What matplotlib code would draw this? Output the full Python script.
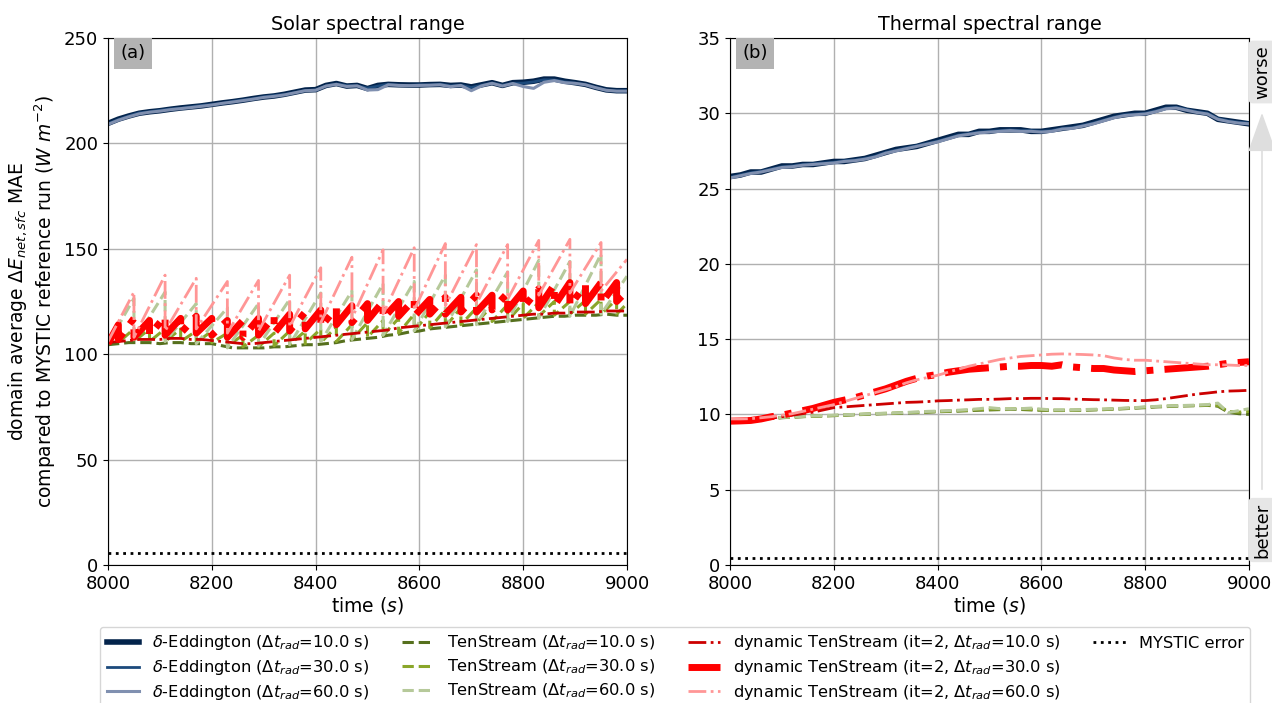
import matplotlib
matplotlib.use("Agg")
import matplotlib.pyplot as plt
import numpy as np

# ---------------- data ----------------
t_grid = np.arange(8000, 9001, 20)

# solar: delta-Eddington
sol_edd10 = [209.5, 211.5, 213, 214.3, 215, 215.5, 216.2, 216.8, 217.3, 217.8,
             218.5, 219.2, 219.8, 220.5, 221.3, 222, 222.5, 223.3, 224.3, 225.3,
             225.5, 227.5, 228.4, 227.2, 227.5, 226, 227.5, 228, 227.8, 227.7,
             227.7, 227.9, 228, 227.5, 227.7, 226.8, 227.8, 228.8, 227.5, 228.8,
             229, 229.5, 230.5, 230.5, 229.5, 228.8, 228, 226.6, 225.4, 225, 225]
sol_edd30 = [209.3, 211.3, 213, 214.5, 215, 215.7, 216.3, 216.6, 217.3, 218,
             218.4, 219, 219.9, 220.6, 221.2, 222.1, 222.7, 223.2, 224.1, 225.1,
             225.3, 227.3, 228.2, 227.4, 227.3, 226.2, 227.2, 228.1, 227.6, 227.5,
             227.8, 227.7, 228.1, 227.3, 227.6, 226.5, 227.6, 228.6, 227.6, 228.5,
             228.6, 229.2, 230.2, 230.1, 229.2, 228.6, 227.9, 226.5, 225.3, 224.8, 224.9]
sol_edd60 = [209, 211, 212.6, 214, 214.8, 215.3, 216, 216.5, 217, 217.6,
             218.2, 219, 219.6, 220.3, 221, 221.8, 222.3, 223, 224, 225,
             225.2, 227.2, 228, 227, 227.3, 225.3, 225.5, 227.8, 227.5, 227.4,
             227.5, 227.6, 227.8, 226.9, 227.5, 225, 227.3, 228.5, 227.2, 228.4,
             227, 226.1, 229, 229.8, 228.8, 228.5, 227.8, 226.4, 225.2, 224.8, 224.8]

# solar: TenStream 10 s and dynamic TenStream 10 s (smooth)
sol_ts10 = [104.5, 105, 105.5, 105.5, 105.5, 105, 105.5, 105.5, 105, 105,
            105, 104, 103, 103, 103, 103, 103.5, 103.5, 104, 104.5,
            104.5, 105, 105.5, 106.5, 107, 107.5, 108, 109, 109.5, 110.5,
            111, 112, 112.5, 113, 113.5, 114, 114.5, 115, 115.5, 116,
            116.5, 117, 117.5, 118, 118, 118.5, 118.5, 118.5, 119, 118.5, 118.5]
sol_dyn10 = [105.5, 106, 106.5, 107, 107, 107, 107.5, 107.5, 107, 107,
             106.5, 106, 105.5, 105, 105, 105.5, 106, 106.5, 107, 107.5,
             108, 108.5, 109, 109.5, 110, 110.5, 111, 111.5, 112.5, 113,
             113.5, 114, 114.5, 115, 115.5, 116, 116.5, 117, 117.5, 118,
             118.5, 119, 119, 119.5, 119.5, 120, 120, 120, 120.5, 120.5, 120.5]

# solar: sawtooth series, values just before (peak) and just after (trough) each update
upd30 = np.arange(8020, 8981, 30)
upd60 = np.arange(8050, 8951, 60)

ts30_start, ts30_end = 105, 124
ts30_peaks = [111, 112, 112, 112, 112, 111, 111, 110, 109, 109, 110, 111, 111,
              112, 113, 114, 115, 116, 117, 119, 120, 121, 122, 122, 123, 123.5,
              124, 124.5, 125, 125, 125.5, 126, 126]
ts30_troughs = [105.5, 106, 106, 106, 106, 105.5, 105.5, 104, 103.5, 103.5, 104,
                104.5, 105, 105.5, 106, 107, 108, 109, 110, 111, 112.5, 113, 114,
                115, 115.5, 116, 117, 118, 118.5, 119, 119, 119, 119]

ts60_start, ts60_end = 105, 137
ts60_peaks = [126.5, 129.5, 124, 122, 124, 126, 129, 130, 133.5, 134.5, 137.5,
              140, 139, 144.5, 144, 147.5]
ts60_troughs = [106, 106, 105, 103, 104, 104.5, 106, 107, 109, 111, 113, 114,
                115.5, 117, 118, 119]

dyn30_start, dyn30_end = 105, 130
dyn30_peaks = [114, 117, 116, 118, 117, 118, 117, 116, 116, 117, 118, 119, 120,
               121, 122, 123, 124, 125, 125, 126, 126, 127, 127, 128, 128, 129,
               130, 131, 133, 134, 133, 134, 134]
dyn30_troughs = [107, 108, 109, 109, 110, 110, 109, 108, 108, 109, 110, 111, 112,
                 113, 114, 115, 116, 117, 118, 118, 119, 119, 120, 120, 121, 121,
                 122, 122, 123, 123, 124, 124, 125]

dyn60_start, dyn60_end = 106, 145
dyn60_peaks = [129.5, 137.5, 136, 134.5, 135, 137.5, 141, 146, 149.5, 150.5,
               152.5, 152, 152, 154, 154.5, 153]
dyn60_troughs = [108, 111, 112, 110, 111, 113, 115, 117, 119, 121, 123, 124,
                 126, 128, 129, 130]

mystic_solar = 5.5

# thermal
th_edd10 = [25.8, 25.9, 26.1, 26.1, 26.3, 26.5, 26.5, 26.6, 26.6, 26.7,
            26.8, 26.8, 26.9, 27.0, 27.2, 27.4, 27.6, 27.7, 27.8, 28.0,
            28.2, 28.4, 28.6, 28.6, 28.8, 28.8, 28.9, 28.9, 28.9, 28.8,
            28.8, 28.9, 29.0, 29.1, 29.2, 29.4, 29.6, 29.8, 29.9, 30.0,
            30.0, 30.2, 30.4, 30.4, 30.2, 30.1, 30.0, 29.6, 29.5, 29.4, 29.3]
th_edd30 = [25.75, 25.9, 26.05, 26.15, 26.3, 26.45, 26.5, 26.6, 26.65, 26.7,
            26.75, 26.85, 26.9, 27.0, 27.15, 27.4, 27.55, 27.7, 27.85, 28.0,
            28.15, 28.35, 28.55, 28.65, 28.75, 28.8, 28.85, 28.9, 28.85, 28.85,
            28.8, 28.85, 29.0, 29.05, 29.2, 29.35, 29.55, 29.75, 29.9, 29.95,
            30.0, 30.15, 30.35, 30.4, 30.25, 30.1, 30.0, 29.65, 29.5, 29.4, 29.35]
th_edd60 = [25.7, 25.85, 26.0, 26.1, 26.25, 26.4, 26.45, 26.55, 26.6, 26.65,
            26.7, 26.8, 26.85, 26.95, 27.1, 27.35, 27.5, 27.65, 27.8, 27.95,
            28.1, 28.3, 28.5, 28.6, 28.7, 28.75, 28.8, 28.85, 28.8, 28.8,
            28.75, 28.8, 28.95, 29.0, 29.15, 29.3, 29.5, 29.7, 29.85, 29.9,
            29.95, 30.1, 30.3, 30.35, 30.2, 30.05, 29.95, 29.6, 29.45, 29.35, 29.3]

th_ts10 = [9.6, 9.62, 9.65, 9.7, 9.73, 9.78, 9.82, 9.85, 9.88, 9.9,
           9.92, 9.95, 9.98, 10.0, 10.03, 10.05, 10.07, 10.1, 10.12, 10.15,
           10.18, 10.2, 10.22, 10.25, 10.28, 10.3, 10.32, 10.33, 10.33, 10.3,
           10.28, 10.26, 10.26, 10.27, 10.28, 10.3, 10.32, 10.35, 10.38, 10.42,
           10.45, 10.5, 10.52, 10.55, 10.57, 10.58, 10.6, 10.55, 10.15, 10.05, 10.0]
th_ts30 = [9.6, 9.63, 9.66, 9.7, 9.74, 9.8, 9.83, 9.86, 9.89, 9.91,
           9.93, 9.96, 9.99, 10.02, 10.05, 10.07, 10.09, 10.12, 10.14, 10.17,
           10.2, 10.22, 10.25, 10.28, 10.32, 10.35, 10.36, 10.36, 10.38, 10.33,
           10.3, 10.28, 10.28, 10.28, 10.3, 10.32, 10.34, 10.37, 10.4, 10.44,
           10.48, 10.52, 10.55, 10.57, 10.58, 10.6, 10.62, 10.6, 10.2, 10.15, 10.2]
th_ts60 = [9.62, 9.65, 9.68, 9.72, 9.76, 9.8, 9.84, 9.87, 9.9, 9.93,
           9.95, 9.98, 10.0, 10.03, 10.06, 10.08, 10.1, 10.13, 10.16, 10.2,
           10.22, 10.25, 10.28, 10.32, 10.38, 10.45, 10.38, 10.36, 10.38, 10.42,
           10.35, 10.3, 10.3, 10.3, 10.32, 10.34, 10.36, 10.38, 10.42, 10.45,
           10.5, 10.53, 10.56, 10.58, 10.6, 10.62, 10.65, 10.75, 10.12, 10.25, 10.38]

th_dyn10 = [9.55, 9.57, 9.6, 9.65, 9.75, 9.85, 9.95, 10.05, 10.15, 10.3,
            10.45, 10.5, 10.55, 10.6, 10.65, 10.7, 10.75, 10.8, 10.82, 10.85,
            10.9, 10.92, 10.95, 10.97, 11.0, 11.0, 11.02, 11.05, 11.05, 11.07,
            11.07, 11.05, 11.05, 11.02, 11.0, 10.98, 10.97, 10.95, 10.93, 10.92,
            10.92, 10.97, 11.05, 11.15, 11.25, 11.35, 11.42, 11.5, 11.55, 11.57, 11.6]
th_dyn30 = [9.55, 9.57, 9.6, 9.7, 9.85, 9.95, 10.1, 10.25, 10.4, 10.6,
            10.8, 10.95, 11.1, 11.3, 11.5, 11.7, 11.95, 12.2, 12.4, 12.55,
            12.65, 12.8, 12.9, 13.0, 13.05, 13.1, 13.15, 13.2, 13.2, 13.25,
            13.25, 13.2, 13.3, 13.15, 13.1, 13.05, 13.05, 12.95, 12.9, 12.85,
            12.9, 12.95, 13.0, 13.05, 13.1, 13.15, 13.2, 13.3, 13.4, 13.45, 13.5]
th_dyn60 = [9.7, 9.7, 9.72, 9.78, 9.85, 9.95, 10.05, 10.2, 10.35, 10.5,
            10.65, 10.85, 11.05, 11.25, 11.45, 11.65, 11.85, 12.1, 12.3, 12.45,
            12.6, 12.8, 13.0, 13.2, 13.35, 13.5, 13.65, 13.75, 13.85, 13.9,
            13.95, 14.0, 14.02, 14.0, 13.98, 13.95, 13.9, 13.75, 13.65, 13.6,
            13.6, 13.55, 13.5, 13.45, 13.4, 13.35, 13.3, 13.3, 13.28, 13.25, 13.25]

mystic_thermal = 0.45

labels = [
    r"$\delta$-Eddington ($\Delta t_{rad}$=10.0 s)",
    r"$\delta$-Eddington ($\Delta t_{rad}$=30.0 s)",
    r"$\delta$-Eddington ($\Delta t_{rad}$=60.0 s)",
    r"TenStream ($\Delta t_{rad}$=10.0 s)",
    r"TenStream ($\Delta t_{rad}$=30.0 s)",
    r"TenStream ($\Delta t_{rad}$=60.0 s)",
    r"dynamic TenStream (it=2, $\Delta t_{rad}$=10.0 s)",
    r"dynamic TenStream (it=2, $\Delta t_{rad}$=30.0 s)",
    r"dynamic TenStream (it=2, $\Delta t_{rad}$=60.0 s)",
    "MYSTIC error",
]

# ---------------- styles ----------------
styles = [
    dict(color="#03234b", lw=4.0, ls="-"),
    dict(color="#1c4a7c", lw=2.0, ls="-"),
    dict(color="#8090b0", lw=2.2, ls="-"),
    dict(color="#56701e", lw=2.2, ls="--"),
    dict(color="#8aa62a", lw=2.2, ls="--"),
    dict(color="#b6c99a", lw=2.2, ls="--"),
    dict(color="#cc0000", lw=2.0, ls="-."),
    dict(color="#ff0000", lw=5.0, ls="-."),
    dict(color="#ff9696", lw=2.0, ls="-."),
]


def sawtooth(start, end, upd, peaks, troughs):
    """Build x/y arrays: linear growth between updates, sharp drop at each update."""
    t = [8000]
    v = [start]
    for tu, p, tr in zip(upd, peaks, troughs):
        t += [tu, tu]
        v += [p, tr]
    t.append(9000)
    v.append(end)
    return t, v


solar = [
    (t_grid, sol_edd10), (t_grid, sol_edd30), (t_grid, sol_edd60),
    (t_grid, sol_ts10),
    sawtooth(ts30_start, ts30_end, upd30, ts30_peaks, ts30_troughs),
    sawtooth(ts60_start, ts60_end, upd60, ts60_peaks, ts60_troughs),
    (t_grid, sol_dyn10),
    sawtooth(dyn30_start, dyn30_end, upd30, dyn30_peaks, dyn30_troughs),
    sawtooth(dyn60_start, dyn60_end, upd60, dyn60_peaks, dyn60_troughs),
]
thermal = [
    (t_grid, th_edd10), (t_grid, th_edd30), (t_grid, th_edd60),
    (t_grid, th_ts10), (t_grid, th_ts30), (t_grid, th_ts60),
    (t_grid, th_dyn10), (t_grid, th_dyn30), (t_grid, th_dyn60),
]

# ---------------- figure ----------------
W, H = 1272, 703
fig = plt.figure(figsize=(W / 100, H / 100), dpi=100)
ax1 = fig.add_axes([108 / W, 1 - 565 / H, 519 / W, 527 / H])
ax2 = fig.add_axes([730 / W, 1 - 565 / H, 519 / W, 527 / H])

handles = []
for (t, v), st in zip(solar, styles):
    (h,) = ax1.plot(t, v, **st)
    handles.append(h)
for (t, v), st in zip(thermal, styles):
    ax2.plot(t, v, **st)

hm = ax1.axhline(mystic_solar, color="black", lw=2, ls=":")
ax2.axhline(mystic_thermal, color="black", lw=2, ls=":")
handles.append(hm)

fs = 13
for ax, ylim, step, title, tag in [
    (ax1, 250, 50, "Solar spectral range", "(a)"),
    (ax2, 35, 5, "Thermal spectral range", "(b)"),
]:
    ax.set_xlim(8000, 9000)
    ax.set_ylim(0, ylim)
    ax.set_xticks(np.arange(8000, 9001, 200))
    ax.set_yticks(np.arange(0, ylim + 1, step))
    ax.grid(True, color="#b0b0b0", lw=1)
    ax.set_axisbelow(True)
    ax.tick_params(labelsize=fs)
    ax.set_xlabel("time ($s$)", fontsize=13.5, labelpad=2)
    ax.set_title(title, fontsize=13.8, pad=6)
    ax.text(0.024, 0.988, tag, transform=ax.transAxes, fontsize=fs, va="top",
            ha="left", bbox=dict(boxstyle="square,pad=0.35", fc="#b3b3b3", ec="none"))

ax1.set_ylabel("domain average $\\Delta E_{net,sfc}$ MAE\n"
               "compared to MYSTIC reference run ($W\\ m^{-2}$)", fontsize=13.5)

# worse / better indicator
fig.text(1262 / W, 1 - 72 / H, "worse", rotation=90, ha="center", va="center",
         fontsize=fs, bbox=dict(boxstyle="round,pad=0.25", fc="#e6e6e6", ec="none"))
fig.text(1262 / W, 1 - 530 / H, "better", rotation=90, ha="center", va="center",
         fontsize=fs, bbox=dict(boxstyle="round,pad=0.25", fc="#e6e6e6", ec="none"))
fig.add_artist(matplotlib.patches.FancyArrowPatch(
    (1262 / W, 1 - 492 / H), (1262 / W, 1 - 110 / H), transform=fig.transFigure,
    arrowstyle="-|>,head_length=1.4,head_width=0.5", mutation_scale=18,
    color="#dedede", lw=1.2))

# two blank entries so the columns fill 3/3/3/1
blank = plt.Line2D([], [], color="none")
leg_handles = handles + [blank, blank]
leg_labels = labels + ["", ""]
fig.legend(leg_handles, leg_labels, loc="upper left",
           bbox_to_anchor=(100 / W, 1 - 627 / H), ncol=4, fontsize=11.7,
           frameon=True, handlelength=2.0, columnspacing=2.0,
           labelspacing=0.35, borderaxespad=0)

fig.savefig("out.png", dpi=100)
